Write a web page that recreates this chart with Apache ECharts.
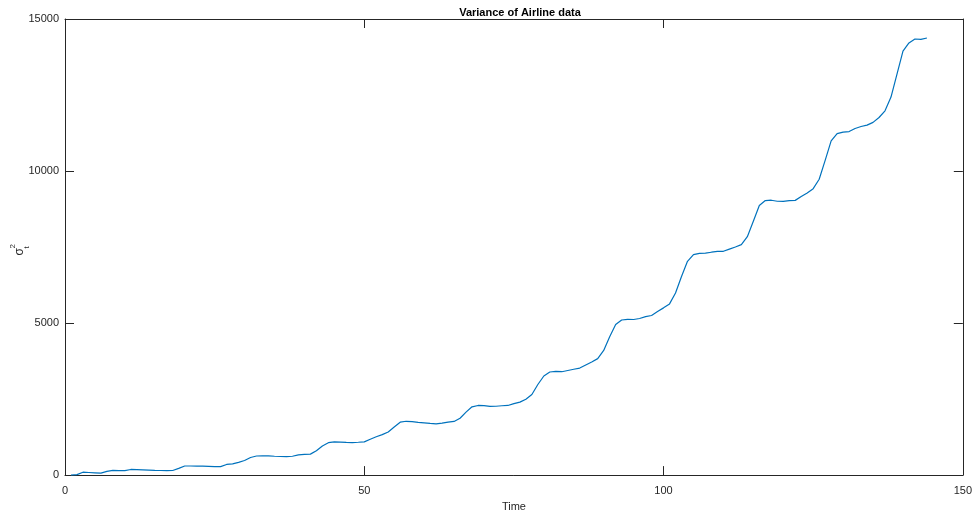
<!DOCTYPE html>
<html>
<head>
<meta charset="utf-8">
<title>Variance of Airline data</title>
<script src="https://cdn.jsdelivr.net/npm/echarts@6/dist/echarts.min.js"></script>
<style>
  html, body { margin: 0; padding: 0; background: #fff; }
  #chart { width: 975px; height: 517px; }
</style>
</head>
<body>
<div id="chart"></div>
<script>
// time index 1..144
const times = [];
for (let i = 1; i <= 144; i++) times.push(i);

// variance values
const variance = [
  0, 15, 95, 85, 75, 65, 120, 155, 145, 150, 185, 180,
  172, 165, 158, 152, 150, 152, 220, 300, 300, 295, 292, 288,
  282, 280, 350, 370, 420, 480, 580, 628, 637, 630, 620, 612,
  605, 620, 665, 680, 690, 800, 960, 1065, 1090, 1085, 1075, 1070,
  1080, 1092, 1180, 1260, 1330, 1420, 1580, 1740, 1770, 1760, 1735, 1720,
  1700, 1685, 1710, 1740, 1765, 1870, 2070, 2246, 2290, 2285, 2262, 2265,
  2280, 2290, 2350, 2400, 2495, 2650, 2980, 3260, 3390, 3410, 3400, 3440,
  3480, 3520, 3620, 3720, 3830, 4100, 4550, 4950, 5100, 5120, 5118, 5150,
  5210, 5250, 5380, 5500, 5630, 5990, 6530, 7031, 7250, 7290, 7300, 7330,
  7355, 7360, 7430, 7500, 7580, 7841, 8350, 8868, 9030, 9040, 9007, 9000,
  9025, 9035, 9160, 9280, 9420, 9730, 10350, 10990, 11230, 11280, 11298, 11400,
  11465, 11510, 11600, 11760, 11980, 12432, 13190, 13942, 14214, 14343, 14331, 14376
];

const xTicks = [0, 50, 100, 150];
const yTicks = [0, 5000, 10000, 15000];

const axisColor = '#262626';
const font = 'Liberation Sans, Arial, sans-serif';

const chart = echarts.init(document.getElementById('chart'));

// common axis style (MATLAB-like box with inward ticks)
function axisBase(ticks, extra) {
  return Object.assign({
    type: 'value',
    min: ticks[0],
    max: ticks[ticks.length - 1],
    interval: ticks[1] - ticks[0],
    splitLine: { show: false },
    axisLine: { show: true, onZero: false, lineStyle: { color: axisColor, width: 1 } },
    axisTick: { show: true, inside: true, length: 9, lineStyle: { color: axisColor, width: 1 } },
    axisLabel: { color: axisColor, fontSize: 11, fontFamily: font, formatter: v => String(v) }
  }, extra);
}

const option = {
  animation: false,
  backgroundColor: '#fff',
  title: {
    text: 'Variance of Airline data',
    left: 515,
    top: 2,
    textAlign: 'center',
    textStyle: { fontSize: 11, fontWeight: 'bold', color: '#000', fontFamily: font }
  },
  grid: { left: 65, right: 9, top: 19, bottom: 35 },
  xAxis: [
    axisBase(xTicks, {
      position: 'bottom',
      name: 'Time',
      nameLocation: 'middle',
      nameGap: 25,
      nameTextStyle: { color: axisColor, fontSize: 11, fontFamily: font },
      axisLabel: { color: axisColor, fontSize: 11, fontFamily: font, margin: 10, formatter: v => String(v) }
    }),
    axisBase(xTicks, { position: 'top', axisLabel: { show: false } })
  ],
  yAxis: [
    axisBase(yTicks, { position: 'left', axisLabel: { color: axisColor, fontSize: 11, fontFamily: font, margin: 6, formatter: v => String(v) } }),
    axisBase(yTicks, { position: 'right', axisLabel: { show: false } })
  ],
  graphic: [
    {
      type: 'group',
      left: 9,
      top: 244,
      rotation: Math.PI / 2,
      children: [
        { type: 'text', x: 0, y: 0, style: { text: 'σ', fontSize: 12, fontFamily: font, fill: axisColor } },
        { type: 'text', x: 7, y: -5, style: { text: '2', fontSize: 8, fontFamily: font, fill: axisColor } },
        { type: 'text', x: 7, y: 9, style: { text: 't', fontSize: 8, fontFamily: font, fill: axisColor } }
      ]
    }
  ],
  series: [
    {
      type: 'line',
      data: times.map((t, i) => [t, variance[i]]),
      showSymbol: false,
      lineStyle: { color: '#0072BD', width: 1.2 },
      itemStyle: { color: '#0072BD' }
    }
  ]
};

chart.setOption(option);
</script>
</body>
</html>
